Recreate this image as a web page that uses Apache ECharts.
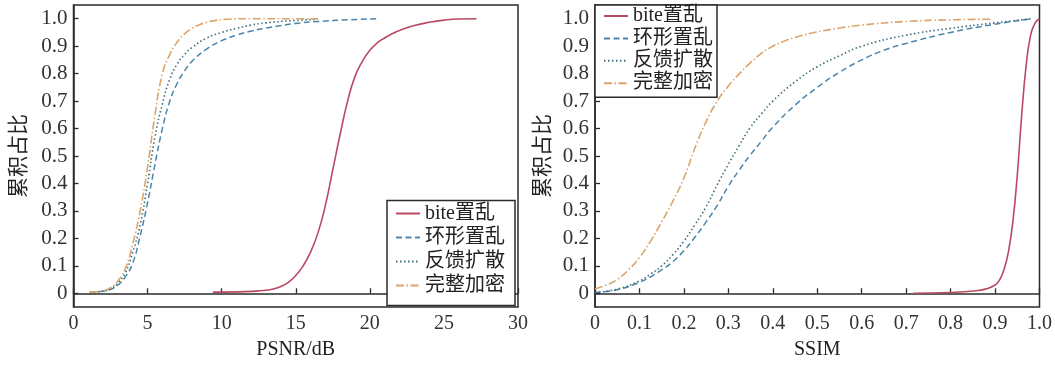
<!DOCTYPE html>
<html>
<head>
<meta charset="utf-8">
<script src="https://cdn.jsdelivr.net/npm/echarts@6/dist/echarts.min.js"></script>
<style>
  html, body { margin: 0; padding: 0; background: #fff; }
  #chart { width: 1055px; height: 365px; }
</style>
</head>
<body>
<div id="chart"></div>
<script>
// series names
var seriesNames = ['bite置乱', '环形置乱', '反馈扩散', '完整加密']

// PSNR panel, [PSNR/dB, cumulative ratio]
var psnrBite = [[9.4, 0.004], [11, 0.005], [12, 0.007], [13, 0.011], [13.5, 0.016], [14, 0.025], [14.5, 0.04], [15, 0.065], [15.5, 0.1], [16, 0.15], [16.5, 0.22], [17, 0.32], [17.5, 0.45], [18, 0.58], [18.5, 0.7], [19, 0.79], [19.5, 0.845], [20, 0.885], [20.5, 0.912], [21, 0.93], [21.5, 0.945], [22, 0.957], [23, 0.975], [24, 0.987], [25, 0.995], [26, 0.999], [27.2, 1.0]]
var psnrRing = [[1.1, 0.004], [2, 0.007], [2.5, 0.014], [3, 0.03], [3.5, 0.06], [4, 0.11], [4.5, 0.21], [5, 0.33], [5.5, 0.47], [6, 0.6], [6.5, 0.7], [7, 0.765], [7.5, 0.81], [8, 0.845], [9, 0.89], [10, 0.92], [11, 0.94], [12, 0.955], [13, 0.966], [14, 0.975], [15, 0.983], [16.5, 0.99], [18.5, 0.996], [20.6, 1.0]]
var psnrFeedback = [[1.1, 0.004], [2, 0.008], [2.5, 0.016], [3, 0.037], [3.5, 0.075], [4, 0.15], [4.5, 0.25], [5, 0.4], [5.5, 0.57], [6, 0.69], [6.5, 0.78], [7, 0.835], [7.5, 0.87], [8, 0.895], [9, 0.93], [10, 0.95], [11, 0.965], [12, 0.977], [13, 0.985], [14.5, 0.992], [16.5, 0.998]]
var psnrFull = [[1.1, 0.004], [2, 0.009], [2.5, 0.02], [3, 0.045], [3.5, 0.09], [4, 0.18], [4.5, 0.3], [5, 0.46], [5.5, 0.65], [6, 0.8], [6.5, 0.87], [7, 0.915], [7.5, 0.945], [8, 0.965], [8.5, 0.978], [9, 0.987], [9.5, 0.993], [10.3, 0.998], [12, 1.0], [16.5, 1.0]]

// SSIM panel, [SSIM, cumulative ratio]
var ssimBite = [[0.716, 0], [0.8, 0.003], [0.85, 0.008], [0.88, 0.016], [0.9, 0.03], [0.91, 0.048], [0.92, 0.085], [0.93, 0.15], [0.94, 0.26], [0.95, 0.43], [0.96, 0.65], [0.97, 0.83], [0.98, 0.94], [0.99, 0.985], [1.0, 1.0]]
var ssimRing = [[0, 0.003], [0.05, 0.013], [0.1, 0.04], [0.125, 0.06], [0.15, 0.085], [0.175, 0.115], [0.2, 0.155], [0.225, 0.205], [0.25, 0.26], [0.275, 0.32], [0.3, 0.39], [0.325, 0.45], [0.35, 0.505], [0.375, 0.555], [0.4, 0.605], [0.45, 0.685], [0.5, 0.75], [0.55, 0.805], [0.6, 0.85], [0.65, 0.885], [0.7, 0.91], [0.8, 0.95], [0.9, 0.98], [0.976, 0.998]]
var ssimFeedback = [[0, 0.003], [0.05, 0.015], [0.1, 0.045], [0.125, 0.07], [0.15, 0.1], [0.175, 0.14], [0.2, 0.19], [0.225, 0.25], [0.25, 0.315], [0.275, 0.395], [0.3, 0.47], [0.325, 0.54], [0.35, 0.605], [0.375, 0.655], [0.4, 0.7], [0.45, 0.77], [0.5, 0.825], [0.55, 0.865], [0.6, 0.9], [0.7, 0.94], [0.8, 0.965], [0.9, 0.985], [0.98, 1.0]]
var ssimFull = [[0, 0.016], [0.025, 0.03], [0.05, 0.05], [0.075, 0.085], [0.1, 0.13], [0.125, 0.19], [0.15, 0.26], [0.175, 0.335], [0.2, 0.42], [0.225, 0.53], [0.25, 0.625], [0.275, 0.7], [0.3, 0.755], [0.325, 0.8], [0.35, 0.84], [0.375, 0.875], [0.4, 0.9], [0.425, 0.918], [0.45, 0.932], [0.5, 0.952], [0.55, 0.966], [0.6, 0.977], [0.7, 0.99], [0.8, 0.996], [0.89, 0.998]]

// tick labels
var yTicks = [0, 0.1, 0.2, 0.3, 0.4, 0.5, 0.6, 0.7, 0.8, 0.9, 1.0]

var serif = '"Liberation Serif", "Noto Sans CJK SC", serif'
var axisColor = '#2b2b2b'
var lineStyles = [
  { color: '#b94a62', width: 1.6, type: 'solid' },
  { color: '#4a86aa', width: 1.5, type: [6, 3.5] },
  { color: '#3f6f7a', width: 1.6, type: [1.5, 2.5] },
  { color: '#dba56a', width: 1.6, type: [8, 2.5, 1.5, 2.5] }
]

function fmt(v) {
  return v === 0 ? '0' : v.toFixed(1)
}

function xAxisOf(idx, name, max, interval, isRatio) {
  return {
    gridIndex: idx,
    type: 'value',
    min: 0,
    max: max,
    interval: interval,
    name: name,
    nameLocation: 'middle',
    nameGap: 33,
    nameTextStyle: { fontFamily: serif, fontSize: 20, color: '#222' },
    axisLine: { show: true, lineStyle: { color: axisColor, width: 1.5 } },
    axisTick: { show: true, inside: true, length: 5, lineStyle: { color: axisColor, width: 1.3 } },
    axisLabel: {
      fontFamily: serif, fontSize: 20, color: '#333', margin: 7,
      showMinLabel: true, showMaxLabel: true,
      formatter: function(v) { return isRatio ? fmt(v) : String(v) }
    },
    splitLine: { show: false }
  }
}

function yAxisOf(idx, gap) {
  return {
    gridIndex: idx,
    type: 'value',
    min: -0.05,
    max: 1.05,
    name: '累积占比',
    nameLocation: 'middle',
    nameGap: gap,
    nameTextStyle: { fontFamily: '"Noto Sans CJK SC", sans-serif', fontSize: 21, color: '#222' },
    axisLine: { show: true, lineStyle: { color: axisColor, width: 1.5 } },
    axisTick: { show: true, inside: true, length: 5, customValues: yTicks, lineStyle: { color: axisColor, width: 1.3 } },
    axisLabel: {
      fontFamily: serif, fontSize: 21, color: '#333', margin: 6,
      customValues: yTicks,
      formatter: function(v) { return fmt(v) }
    },
    splitLine: { show: false }
  }
}

function line(name, idx, data, k) {
  return {
    name: name,
    type: 'line',
    xAxisIndex: idx,
    yAxisIndex: idx,
    data: data,
    symbol: 'none',
    showSymbol: false,
    smooth: 0.5,
    lineStyle: lineStyles[k],
    itemStyle: { color: lineStyles[k].color },
    z: 3
  }
}

function legendOf(left, top, gap, pad) {
  return {
    data: seriesNames,
    orient: 'vertical',
    left: left,
    top: top,
    itemWidth: 24,
    itemHeight: 12,
    itemGap: gap,
    padding: pad,
    borderColor: axisColor,
    borderWidth: 1.5,
    borderRadius: 0,
    backgroundColor: '#fff',
    selectedMode: false,
    itemStyle: { opacity: 0 },
    textStyle: { fontFamily: serif, fontSize: 20, lineHeight: 20, color: '#222' },
    z: 10
  }
}

var chart = echarts.init(document.getElementById('chart'))
chart.setOption({
  animation: false,
  backgroundColor: '#fff',
  grid: [
    { left: 73.5, top: 5, width: 444.5, height: 302.3, show: true, borderColor: axisColor, borderWidth: 1.5 },
    { left: 595, top: 5, width: 445, height: 302.3, show: true, borderColor: axisColor, borderWidth: 1.5 }
  ],
  xAxis: [
    xAxisOf(0, 'PSNR/dB', 30, 5, false),
    xAxisOf(1, 'SSIM', 1, 0.1, true)
  ],
  yAxis: [yAxisOf(0, 46), yAxisOf(1, 43)],
  legend: [
    legendOf(387, 200.5, 4, [3, 10, 10, 8]),
    legendOf(595, 5, 2.4, [1, 4, 4, 8])
  ],
  series: [
    line(seriesNames[0], 0, psnrBite, 0),
    line(seriesNames[1], 0, psnrRing, 1),
    line(seriesNames[2], 0, psnrFeedback, 2),
    line(seriesNames[3], 0, psnrFull, 3),
    line(seriesNames[0], 1, ssimBite, 0),
    line(seriesNames[1], 1, ssimRing, 1),
    line(seriesNames[2], 1, ssimFeedback, 2),
    line(seriesNames[3], 1, ssimFull, 3)
  ]
})
</script>
</body>
</html>
